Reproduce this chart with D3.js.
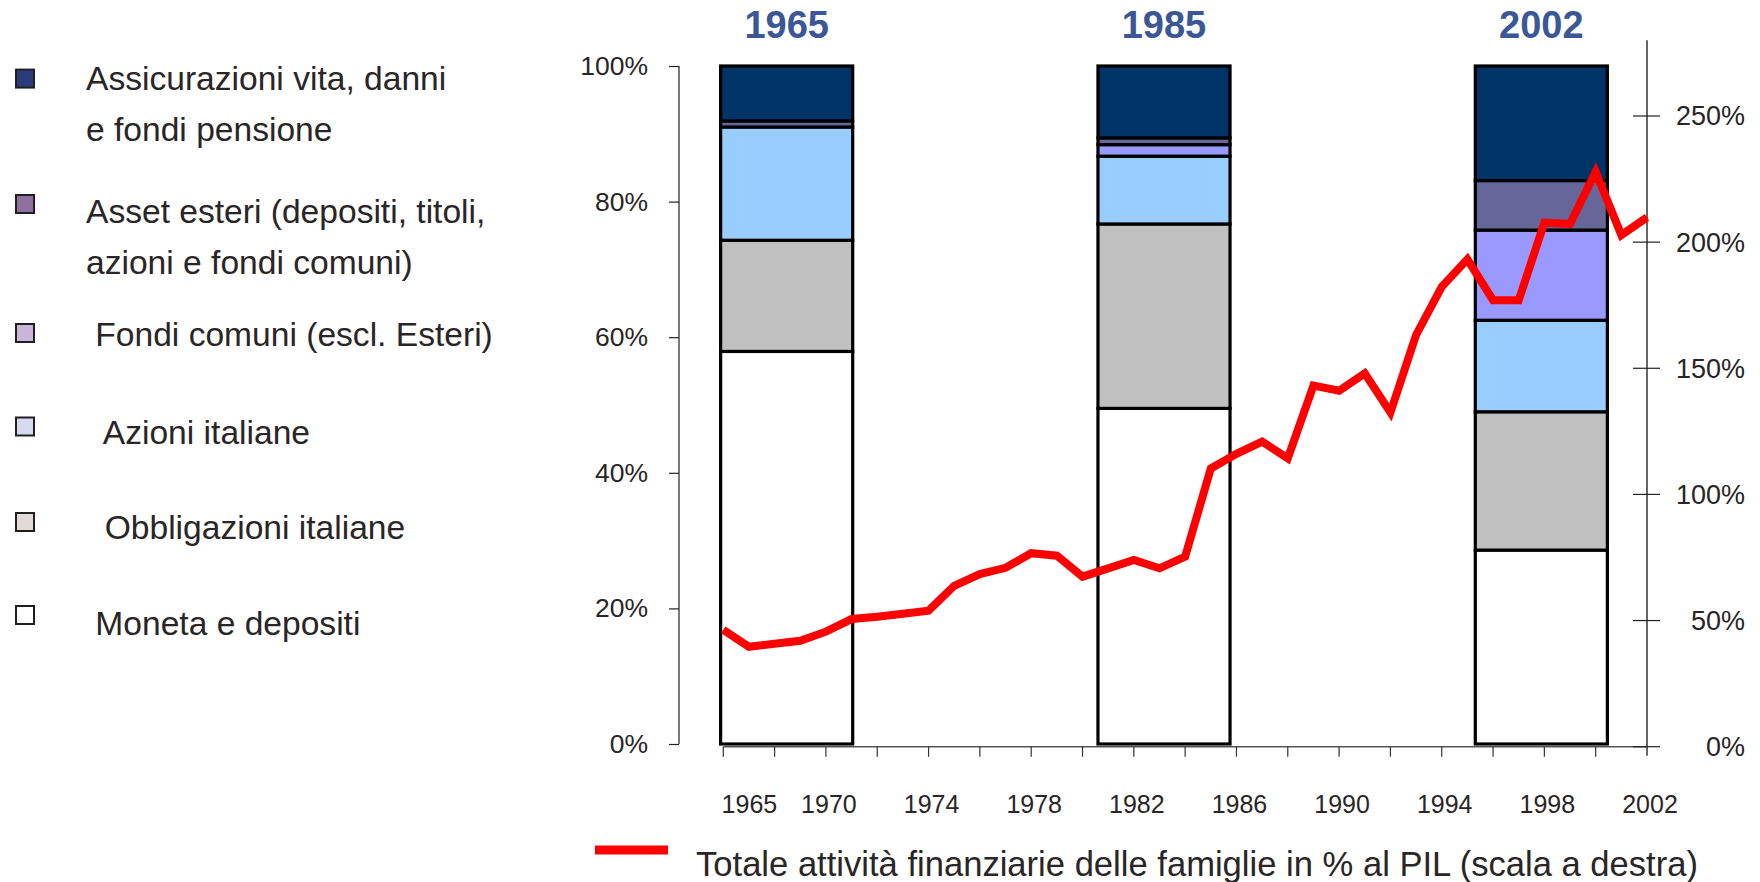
<!DOCTYPE html>
<html>
<head>
<meta charset="utf-8">
<script src="https://cdn.jsdelivr.net/npm/d3@7"></script>
<style>
  html, body { margin: 0; padding: 0; background: #ffffff; }
  svg { display: block; }
  text { font-family: "Liberation Sans", Arial, sans-serif; fill: #2a2526; }
</style>
</head>
<body>
<svg id="chart" width="1760" height="882"></svg>
<script>
// ---------------- DATA ----------------
const barCategories = ["1965", "1985", "2002"];
const moneta        = [57.9, 49.5, 28.6];
const obbligazioni  = [16.4, 27.2, 20.4];
const azioni        = [16.7, 10.0, 13.5];
const fondi         = [0.0, 1.7, 13.3];
const esteri        = [0.9, 1.0, 7.3];
const assicurazioni = [8.1, 10.6, 16.9];

const seriesKeys   = ["moneta", "obbligazioni", "azioni", "fondi", "esteri", "assicurazioni"];
const seriesColors = ["#ffffff", "#c0c0c0", "#99ccff", "#9999ff", "#666699", "#003366"];

const lineYears = [1966, 1967, 1968, 1969, 1970, 1971, 1972, 1973, 1974, 1975,
                   1976, 1977, 1978, 1979, 1980, 1981, 1982, 1983, 1984, 1985,
                   1986, 1987, 1988, 1989, 1990, 1991, 1992, 1993, 1994, 1995,
                   1996, 1997, 1998, 1999, 2000, 2001, 2002];
const totaleAttivita = [46.3, 39.6, 40.8, 42.0, 45.6, 50.6, 51.5, 52.7, 53.9, 63.8,
                        68.4, 70.9, 76.7, 75.7, 67.4, 70.7, 74.0, 70.7, 75.3, 110.3,
                        116.1, 120.9, 114.3, 143.1, 141.1, 148.0, 132.5, 163.2, 182.3, 193.2,
                        177.0, 177.0, 207.7, 207.2, 227.9, 202.8, 209.8];

const leftTicks  = [0, 20, 40, 60, 80, 100];
const rightTicks = [0, 50, 100, 150, 200, 250];
const xTickYears = [1966, 1968, 1970, 1972, 1974, 1976, 1978, 1980, 1982, 1984,
                    1986, 1988, 1990, 1992, 1994, 1996, 1998, 2000];
const xLabelTexts = ["1965", "1970", "1974", "1978", "1982", "1986", "1990", "1994", "1998", "2002"];
const xLabelYears = [1966.9, 1970, 1974, 1978, 1982, 1986, 1990, 1994, 1998, 2002];

const legendLabels = [
  ["Assicurazioni vita, danni", "e fondi pensione"],
  ["Asset esteri (depositi, titoli,", "azioni e fondi comuni)"],
  [" Fondi comuni (escl. Esteri)"],
  ["  Azioni italiane"],
  ["  Obbligazioni italiane"],
  [" Moneta e depositi"]
];
const legendColors = ["#2b3c7c", "#8e6f9e", "#c9b5da", "#d6daee", "#e2dad6", "#ffffff"];
const lineLegendLabel = "Totale attività finanziarie delle famiglie in % al PIL (scala a destra)";

// ---------------- CHART ----------------
const svg = d3.select("#chart");

const yLeft = d3.scaleLinear().domain([0, 100]).range([744, 66]);
const xBar = d3.scaleBand().domain(barCategories).range([598, 1730])
  .paddingInner(0.65).paddingOuter(0.325);
const xLine = d3.scaleLinear().domain([1966, 2002]).range([723.3, 1647]);
const yRight = d3.scaleLinear().domain([0, 280]).range([746.7, 40.3]);

// table for stacking
const table = barCategories.map((c, i) => ({
  cat: c,
  moneta: moneta[i], obbligazioni: obbligazioni[i], azioni: azioni[i],
  fondi: fondi[i], esteri: esteri[i], assicurazioni: assicurazioni[i]
}));
const stacked = d3.stack().keys(seriesKeys)(table);

// left axis
const leftAxis = svg.append("g").attr("transform", "translate(679,0)")
  .call(d3.axisLeft(yLeft).tickValues(leftTicks).tickFormat(d => d + "%")
    .tickSize(10).tickPadding(21));
leftAxis.select(".domain").attr("stroke", "#222").attr("stroke-width", 1.2).attr("d", "M0,66V744");
leftAxis.selectAll(".tick line").attr("stroke", "#222").attr("stroke-width", 1.2);
leftAxis.selectAll(".tick text").style("font-size", "26.5px").attr("fill", "#2a2526")
  .style("font-family", "'Liberation Sans', Arial, sans-serif");

// x axis (line chart)
const xAxisG = svg.append("g");
xAxisG.append("line")
  .attr("x1", xLine(1966)).attr("x2", xLine(2002))
  .attr("y1", yRight(0)).attr("y2", yRight(0))
  .attr("stroke", "#555").attr("stroke-width", 1.5);
xAxisG.selectAll("line.xt").data(xTickYears).join("line").attr("class", "xt")
  .attr("x1", d => xLine(d)).attr("x2", d => xLine(d))
  .attr("y1", yRight(0)).attr("y2", yRight(0) + 10)
  .attr("stroke", "#333").attr("stroke-width", 1.2);
xAxisG.selectAll("text.xl").data(xLabelTexts).join("text").attr("class", "xl")
  .attr("x", (d, i) => xLine(xLabelYears[i]) + 3)
  .attr("y", 813)
  .attr("text-anchor", "middle")
  .style("font-size", "25px")
  .text(d => d);

// bars
const layers = svg.append("g").selectAll("g").data(stacked).join("g")
  .attr("fill", (d, i) => seriesColors[i]);
layers.selectAll("rect").data(d => d).join("rect")
  .attr("x", d => xBar(d.data.cat))
  .attr("width", xBar.bandwidth())
  .attr("y", d => yLeft(d[1]))
  .attr("height", d => yLeft(d[0]) - yLeft(d[1]))
  .attr("stroke", "#000").attr("stroke-width", 3.2);

// bar titles
svg.append("g").selectAll("text").data(barCategories).join("text")
  .attr("x", d => xBar(d) + xBar.bandwidth() / 2)
  .attr("y", 38)
  .attr("text-anchor", "middle")
  .style("font-size", "38px").style("font-weight", "bold")
  .style("fill", "#3b5795")
  .text(d => d);

// right axis
const rightAxis = svg.append("g").attr("transform", "translate(1647,0)");
rightAxis.append("line").attr("x1", 0).attr("x2", 0)
  .attr("y1", yRight(280)).attr("y2", yRight(0) + 9)
  .attr("stroke", "#666").attr("stroke-width", 2);
rightAxis.selectAll("line.rt").data(rightTicks).join("line").attr("class", "rt")
  .attr("x1", -14).attr("x2", 13)
  .attr("y1", d => yRight(d)).attr("y2", d => yRight(d))
  .attr("stroke", "#222").attr("stroke-width", 1.2);
rightAxis.selectAll("text").data(rightTicks).join("text")
  .attr("x", 98).attr("y", d => yRight(d)).attr("dy", "0.35em")
  .attr("text-anchor", "end")
  .style("font-size", "27px")
  .text(d => d + "%");

// line
const line = d3.line().x((d, i) => xLine(lineYears[i])).y(d => yRight(d));
svg.append("path").datum(totaleAttivita)
  .attr("d", line)
  .attr("fill", "none").attr("stroke", "#ff0000").attr("stroke-width", 8)
  .attr("stroke-linejoin", "miter");

// left legend
const legendY = [78.6, 204, 333, 426.5, 522, 615];
const legendTextY = [78, 211, 334, 432, 527.5, 623];
const lg = svg.append("g");
legendLabels.forEach((lines, i) => {
  lg.append("rect")
    .attr("x", 16).attr("y", legendY[i] - 9).attr("width", 18).attr("height", 18)
    .attr("fill", legendColors[i]).attr("stroke", "#231f20").attr("stroke-width", 2);
  lines.forEach((t, j) => {
    lg.append("text")
      .attr("x", 86).attr("y", legendTextY[i] + j * 51)
      .attr("dy", "0.35em")
      .style("font-size", "33.6px")
      .attr("xml:space", "preserve")
      .style("white-space", "pre")
      .text(t);
  });
});

// bottom legend
svg.append("line").attr("x1", 595).attr("x2", 668).attr("y1", 850).attr("y2", 850)
  .attr("stroke", "#ff0000").attr("stroke-width", 9);
svg.append("text").attr("x", 696).attr("y", 864).attr("dy", "0.35em")
  .style("font-size", "34.6px").text(lineLegendLabel);
</script>
</body>
</html>
